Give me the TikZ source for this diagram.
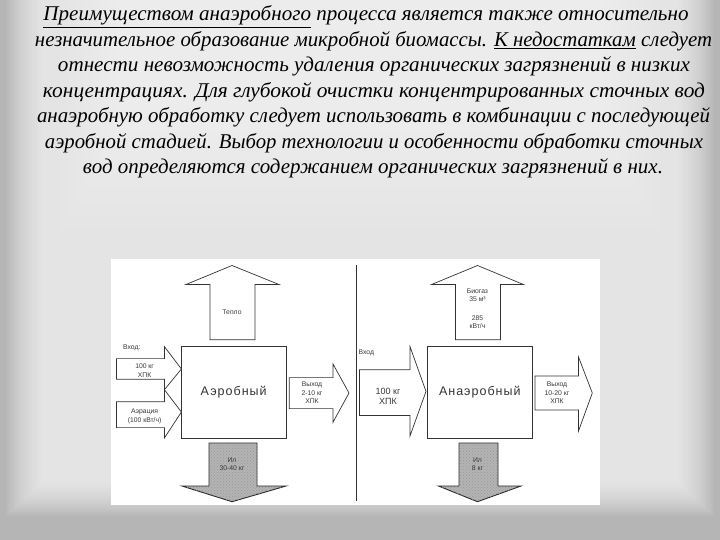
\documentclass[tikz,border=0pt]{standalone}
\usepackage{fontspec}
\usepackage{graphicx}
\usetikzlibrary{patterns}
\setmainfont{Liberation Serif}
\newfontfamily\diagfont{Liberation Sans}
\newfontfamily\boxfont{Liberation Sans}[LetterSpace=8]
\newcommand\fitline[2]{\resizebox{#1}{\height}{#2}}
\definecolor{bgbase}{HTML}{B5B5B5}
\definecolor{ilgray}{HTML}{B4B4B4}
\tikzset{
  txtline/.style={anchor=base, inner sep=0pt, font=\itshape\fontsize{21}{25}\selectfont},
  blk/.style={draw=black!80, line width=0.7pt, fill=white, line join=miter},
  ilblk/.style={draw=black!85, line width=0.9pt, fill=ilgray, line join=miter, postaction={pattern=crosshatch dots, pattern color=black!40}},
  procbox/.style={draw=black!80, line width=0.8pt, fill=white, minimum width=105pt, minimum height=91.4pt, inner sep=0pt, font=\boxfont\fontsize{12.5}{14}\selectfont, text=black!80},
  lbl/.style={inner sep=0pt, align=center, text=black!78, font=\diagfont\fontsize{6.8}{8.6}\selectfont},
  lblbig/.style={inner sep=0pt, align=center, text=black!78, font=\diagfont\fontsize{9}{10.5}\selectfont}
}
\begin{document}
\begin{tikzpicture}[x=1pt,y=-1pt]
\useasboundingbox (0,0) rectangle (720,540);
% background
\fill[bgbase] (0,0) rectangle (720,540);
\foreach \i in {0,...,17} {\fill[white, opacity=0.065] (6+2.2*\i,-20) rectangle (714-2.2*\i,516-2*\i);}
\foreach \i in {0,...,9} {\fill[white, opacity=0.05] (60+8*\i,-10) rectangle (660-8*\i,230-14*\i);}
% text
\node[txtline] (l1) at (366,21) {\fitline{645pt}{\underline{Преимуществом анаэробного} процесса является также относительно}};
\node[txtline] (l2) at (373.5,46.5) {\fitline{677pt}{незначительное образование микробной биомассы. \underline{К недостаткам} следует}};
\node[txtline] (l3) at (374,72) {\fitline{632pt}{отнести невозможность удаления органических загрязнений в низких}};
\node[txtline] (l4) at (374,97.5) {\fitline{662pt}{концентрациях. Для глубокой очистки концентрированных сточных вод}};
\node[txtline] (l5) at (373.5,123) {\fitline{673pt}{анаэробную обработку следует использовать в комбинации с последующей}};
\node[txtline] (l6) at (374,148.5) {\fitline{658pt}{аэробной стадией. Выбор технологии и особенности обработки сточных}};
\node[txtline] (l7) at (373,174) {\fitline{580pt}{вод определяются содержанием органических загрязнений в них.}};
% diagram panel
\fill[white] (111,259) rectangle (600,505);
\coordinate (divtop) at (356.3,265);
\coordinate (divbot) at (356.3,500.7);
\draw[black!80, line width=0.7pt] (divtop) -- (divbot);
% ---- aerobic ----
\node[procbox] (aer) at (233.7,392.3) {Аэробный};
\draw[blk] (210,339.7) -- (210,284.5) -- (186,284.5) -- (232,265.5) -- (279,284.5) -- (255,284.5) -- (255,339.7) -- cycle;
\node[lbl] (heat) at (232,312) {Тепло};
\draw[blk] (116.5,358.6) -- (164.4,358.6) -- (164.4,346.6) -- (181.4,369) -- (164.4,389.7) -- (164.4,379.3) -- (116.5,379.3) -- cycle;
\draw[blk] (116.5,401.7) -- (164.4,401.7) -- (164.4,389.7) -- (181.4,412) -- (164.4,438) -- (164.4,427.6) -- (116.5,427.6) -- cycle;
\node[lbl, anchor=west] (in1) at (123,348.3) {Вход:};
\node[lbl] (in1v) at (144.6,370.5) {100 кг\\ХПК};
\node[lbl] (aerat) at (144.6,416.5) {Аэрация\\(100 кВт/ч)};
\draw[blk] (289.3,377.6) -- (332.9,377.6) -- (332.9,363.8) -- (349,393) -- (332.9,422.4) -- (332.9,408.6) -- (289.3,408.6) -- cycle;
\node[lbl] (out1) at (312,393) {Выход\\2-10 кг\\ХПК};
\draw[ilblk] (209,443) -- (209,486) -- (182,486) -- (232,501.7) -- (286,486) -- (257,486) -- (257,443) -- cycle;
\node[lbl] (il1) at (232,464) {Ил\\30-40 кг};
% ---- anaerobic ----
\node[procbox] (anaer) at (479.8,392.3) {Анаэробный};
\draw[blk] (455.5,339.7) -- (455.5,284.5) -- (431.6,284.5) -- (477.5,265.5) -- (523.4,284.5) -- (500.5,284.5) -- (500.5,339.7) -- cycle;
\node[lbl] (biog) at (477.5,295) {Биогаз\\35 м³};
\node[lbl] (pow) at (477.5,322) {285\\кВт/ч};
\draw[blk] (359.5,369.7) -- (410,369.7) -- (410,346.6) -- (426,391.4) -- (410,436) -- (410,415.5) -- (359.5,415.5) -- cycle;
\node[lbl, anchor=west] (in2) at (358.5,352.4) {Вход};
\node[lblbig] (in2v) at (388,396.5) {100 кг\\ХПК};
\draw[blk] (535,376) -- (578.5,376) -- (578.5,357) -- (592.3,393) -- (578.5,431) -- (578.5,410) -- (535,410) -- cycle;
\node[lbl] (out2) at (557,393) {Выход\\10-20 кг\\ХПК};
\draw[ilblk] (459,443) -- (459,486) -- (438.5,486) -- (477.5,501.7) -- (521,486) -- (498,486) -- (498,443) -- cycle;
\node[lbl] (il2) at (477.5,464) {Ил\\8 кг};
\end{tikzpicture}
\end{document}
